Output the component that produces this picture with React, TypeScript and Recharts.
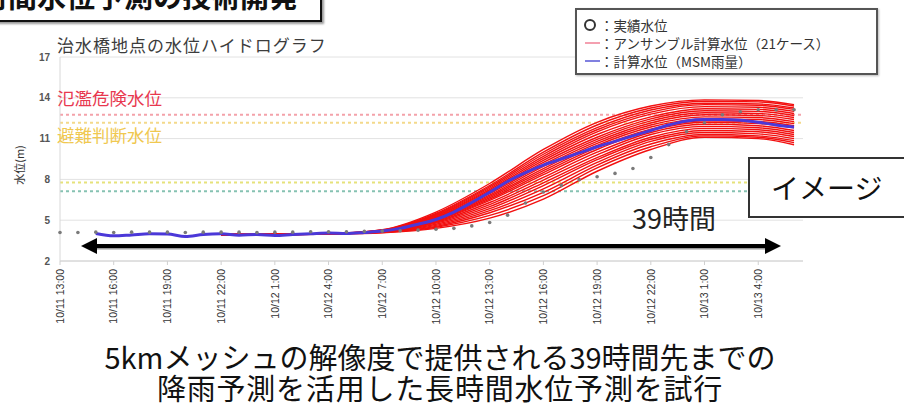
import { LineChart, Line, XAxis, YAxis, CartesianGrid, ReferenceLine } from 'recharts';

// hours after 10/11 13:00
const hours = [0, 1, 2, 3, 4, 5, 6, 7, 8, 9, 10, 11, 12, 13, 14, 15, 16, 17, 18, 19, 20,
  21, 22, 23, 24, 25, 26, 27, 28, 29, 30, 31, 32, 33, 34, 35, 36, 37, 38, 39, 40, 41];

const observed = [4.1, 4.1, 4.12, 4.1, 4.12, 4.12, 4.12, 4.1, 4.12, 4.12, 4.12, 4.1, 4.12, 4.12,
  4.15, 4.15, 4.15, 4.18, 4.2, 4.22, 4.27, 4.34, 4.4, 4.58, 4.83, 5.37, 6.27, 7.07, 7.56, 7.98,
  8.2, 8.44, 8.8, 9.61, 10.56, 11.51, 12.17, 12.75, 12.97, 13.12, 13.12, 13.12];

const msm = [null, null, 4.02, 3.85, 3.92, 4.0, 3.98, 3.8, 3.95, 4.0, 3.9, 3.95, 3.88, 3.95,
  4.0, 4.05, 4.02, 4.1, 4.2, 4.4, 4.7, 5.05, 5.6, 6.3, 7.05, 7.85, 8.5, 9.05, 9.5, 9.95,
  10.4, 10.8, 11.2, 11.6, 12.0, 12.3, 12.4, 12.4, 12.35, 12.2, 12.0, 11.85];

const ensembleHours = [9, 12, 15, 18, 21, 24, 27, 30, 33, 36, 39, 41];

const ensemble = [
  [3.95, 3.95, 4.0, 4.3, 5.6, 7.7, 10.2, 12.2, 13.4, 13.85, 13.8, 13.5],
  [3.95, 3.95, 4.0, 4.28, 5.5, 7.55, 10.0, 12.0, 13.25, 13.75, 13.7, 13.4],
  [3.92, 3.98, 4.02, 4.26, 5.45, 7.45, 9.85, 11.8, 13.1, 13.6, 13.55, 13.25],
  [3.95, 3.92, 4.0, 4.25, 5.4, 7.35, 9.7, 11.65, 12.95, 13.5, 13.45, 13.15],
  [3.93, 3.96, 4.01, 4.24, 5.35, 7.25, 9.55, 11.5, 12.8, 13.35, 13.3, 13.0],
  [3.95, 3.95, 4.0, 4.23, 5.3, 7.15, 9.4, 11.3, 12.6, 13.2, 13.15, 12.85],
  [3.9, 3.95, 3.98, 4.22, 5.25, 7.05, 9.25, 11.1, 12.45, 13.05, 13.0, 12.7],
  [3.95, 3.97, 4.0, 4.21, 5.2, 6.95, 9.1, 10.95, 12.3, 12.9, 12.85, 12.55],
  [3.92, 3.94, 4.02, 4.2, 5.15, 6.85, 8.95, 10.8, 12.15, 12.75, 12.7, 12.4],
  [3.95, 3.95, 4.0, 4.2, 5.1, 6.75, 8.8, 10.65, 12.0, 12.6, 12.55, 12.25],
  [3.94, 3.96, 4.0, 4.19, 5.05, 6.65, 8.65, 10.5, 11.85, 12.45, 12.4, 12.1],
  [3.95, 3.93, 4.01, 4.18, 5.0, 6.55, 8.5, 10.35, 11.7, 12.3, 12.25, 11.95],
  [3.92, 3.95, 3.99, 4.17, 4.95, 6.45, 8.35, 10.2, 11.6, 12.2, 12.1, 11.8],
  [3.95, 3.96, 4.0, 4.16, 4.9, 6.3, 8.15, 10.0, 11.45, 12.05, 11.95, 11.6],
  [3.93, 3.95, 4.0, 4.15, 4.85, 6.15, 7.95, 9.8, 11.3, 11.9, 11.8, 11.45],
  [3.95, 3.94, 4.01, 4.14, 4.78, 6.0, 7.75, 9.6, 11.1, 11.75, 11.65, 11.3],
  [3.92, 3.96, 4.0, 4.13, 4.7, 5.85, 7.55, 9.45, 10.95, 11.6, 11.5, 11.15],
  [3.95, 3.95, 3.99, 4.12, 4.62, 5.7, 7.3, 9.25, 10.8, 11.45, 11.35, 11.0],
  [3.93, 3.94, 4.0, 4.11, 4.55, 5.55, 7.05, 9.05, 10.6, 11.3, 11.2, 10.85],
  [3.95, 3.96, 4.0, 4.1, 4.48, 5.35, 6.8, 8.85, 10.4, 11.2, 11.1, 10.7],
  [3.92, 3.95, 3.98, 4.08, 4.4, 5.15, 6.55, 8.6, 10.2, 11.1, 11.0, 10.55],
];

const xTicks = [0, 3, 6, 9, 12, 15, 18, 21, 24, 27, 30, 33, 36, 39];
const xTickLabels = ['10/11 13:00', '10/11 16:00', '10/11 19:00', '10/11 22:00', '10/12 1:00',
  '10/12 4:00', '10/12 7:00', '10/12 10:00', '10/12 13:00', '10/12 16:00', '10/12 19:00',
  '10/12 22:00', '10/13 1:00', '10/13 4:00'];
const yTicks = [2, 5, 8, 11, 14, 17];

const thresholds = [
  { y: 12.76, color: '#f4a2aa' },
  { y: 12.17, color: '#f3d98a' },
  { y: 7.78, color: '#e6e27a' },
  { y: 7.12, color: '#86c2b2' },
];

const legendItems = ['：実績水位', '：アンサンブル計算水位（21ケース）', '：計算水位（MSM雨量）'];

const rows = hours.map((h, i) => ({ h, obs: observed[i], calc: msm[i] }));
const members = ensemble.map((m) => ensembleHours.map((h, i) => ({ h, v: m[i] })));

const jp = '"Noto Sans CJK JP", sans-serif';

function XTick({ x, y, payload }: any) {
  const idx = xTicks.indexOf(payload.value);
  return (
    <g transform={`translate(${x},${y})`}>
      <text transform="rotate(-90)" x={-2} dy="0.35em" textAnchor="end"
        fontSize={10.5} fill="#333" fontFamily="Liberation Sans, Arial, sans-serif">
        {xTickLabels[idx]}
      </text>
    </g>
  );
}

export default function App() {
  return (
    <div style={{ position: 'fixed', left: 0, top: 0, width: 904, height: 405, background: '#fff', overflow: 'hidden', fontFamily: jp }}>
      {/* header box, cut off at the top */}
      <div style={{ position: 'absolute', left: -10, top: -12, width: 332, height: 34, boxSizing: 'border-box', border: '2px solid #111', boxShadow: '2px 2px 2px #999', overflow: 'hidden' }}>
        <div style={{ position: 'absolute', left: -42, top: -9, fontSize: 29, lineHeight: '29px', fontWeight: 700, color: '#111', whiteSpace: 'nowrap' }}>
          長時間水位予測の技術開発
        </div>
      </div>

      <LineChart width={904} height={405} data={rows} margin={{ top: 57, right: 101, bottom: 64, left: 30 }}>
        <CartesianGrid horizontal vertical={false} stroke="#e2e2e2" />
        <XAxis dataKey="h" type="number" domain={[0, 41.5]} ticks={xTicks} interval={0}
          height={80} tick={<XTick />} tickSize={4} stroke="#d0d0d0" />
        <YAxis domain={[2, 17]} ticks={yTicks} width={30} tickLine={false} stroke="#d8d8d8"
          tickMargin={4} tick={{ fontSize: 10, fontWeight: 700, fill: '#555', fontFamily: 'Liberation Sans, Arial, sans-serif' }} />
        {thresholds.map((t) => (
          <ReferenceLine key={t.y} y={t.y} stroke={t.color} strokeWidth={2} strokeDasharray="3 3" />
        ))}
        {members.map((d, i) => (
          <Line key={i} data={d} dataKey="v" type="monotone" stroke="#f21010" strokeWidth={1.4}
            dot={false} isAnimationActive={false} />
        ))}
        <Line dataKey="calc" type="monotone" stroke="#4b38d8" strokeWidth={3} dot={false}
          isAnimationActive={false} />
        <Line dataKey="obs" stroke="none" dot={{ r: 1.8, fill: '#7a7a7a', stroke: 'none' }}
          isAnimationActive={false} />
      </LineChart>

      {/* arrow for the 39 hour span */}
      <svg width={904} height={405} style={{ position: 'absolute', left: 0, top: 0, pointerEvents: 'none' }}>
        <line x1={95} y1={248.5} x2={767} y2={248.5} stroke="#999" strokeWidth={2} />
        <line x1={95} y1={246} x2={767} y2={246} stroke="#000" strokeWidth={4} />
        <polygon points="81,246 97,238 97,254" fill="#000" />
        <polygon points="781,246 765,238 765,254" fill="#000" />
      </svg>

      <div style={{ position: 'absolute', left: 57, top: 36, fontSize: 17, lineHeight: '17px', letterSpacing: 1, color: '#3c3c3c', whiteSpace: 'nowrap' }}>
        治水橋地点の水位ハイドログラフ
      </div>
      <div style={{ position: 'absolute', left: 57, top: 89, fontSize: 17.5, lineHeight: '18px', color: '#e8384f', whiteSpace: 'nowrap' }}>
        氾濫危険水位
      </div>
      <div style={{ position: 'absolute', left: 57, top: 126, fontSize: 17.5, lineHeight: '18px', color: '#f0c850', whiteSpace: 'nowrap' }}>
        避難判断水位
      </div>
      <div style={{ position: 'absolute', left: 19, top: 165, transform: 'translate(-50%,-50%) rotate(-90deg)', fontSize: 11, color: '#333', whiteSpace: 'nowrap' }}>
        水位(m)
      </div>

      {/* legend */}
      <div style={{ position: 'absolute', left: 575, top: 8, width: 303, height: 67, boxSizing: 'border-box', border: '2px solid #555', background: '#fff', boxShadow: '1px 1px 2px #bbb' }} />
      <div style={{ position: 'absolute', left: 584, top: 19, width: 12, height: 12, boxSizing: 'border-box', border: '2.5px solid #333', borderRadius: '50%' }} />
      <div style={{ position: 'absolute', left: 585, top: 42, width: 15, height: 2, background: '#f4a0b0' }} />
      <div style={{ position: 'absolute', left: 585, top: 60, width: 15, height: 2, background: '#8080e0' }} />
      {legendItems.map((s, i) => (
        <div key={s} style={{ position: 'absolute', left: 600, top: 17 + i * 18, fontSize: 13.5, lineHeight: '16px', color: '#333', whiteSpace: 'nowrap' }}>
          {s}
        </div>
      ))}

      {/* image box */}
      <div style={{ position: 'absolute', left: 748, top: 157, width: 180, height: 61, boxSizing: 'border-box', border: '2px solid #333', background: '#fff' }} />
      <div style={{ position: 'absolute', left: 771, top: 172, fontSize: 28, lineHeight: '30px', color: '#111', whiteSpace: 'nowrap' }}>
        イメージ
      </div>

      <div style={{ position: 'absolute', left: 632, top: 204, fontSize: 27, lineHeight: '27px', color: '#222', whiteSpace: 'nowrap' }}>
        39時間
      </div>

      <div style={{ position: 'absolute', left: 0, top: 341, width: 880, textAlign: 'center', fontSize: 29, lineHeight: '31px', color: '#111' }}>
        <div>5kmメッシュの解像度で提供される39時間先までの</div>
        <div style={{ letterSpacing: 0.8 }}>降雨予測を活用した長時間水位予測を試行</div>
      </div>
    </div>
  );
}
